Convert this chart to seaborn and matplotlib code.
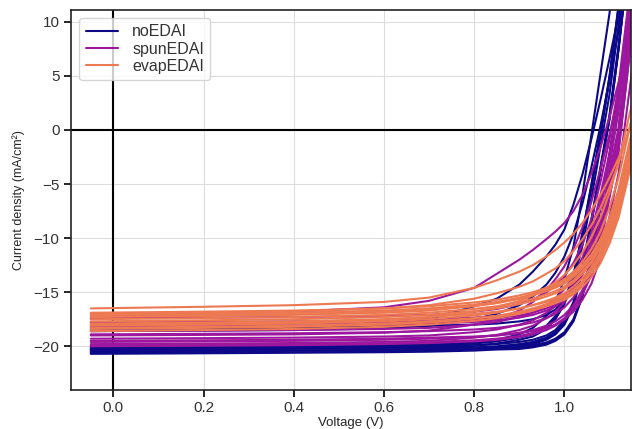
import pandas as pd
import matplotlib
matplotlib.use("Agg")
import matplotlib.pyplot as plt
import seaborn as sns

# Voltage sweep (V) shared by all devices
voltage = [-0.05, 0.2, 0.4, 0.6, 0.7, 0.8, 0.85, 0.9, 0.93, 0.96,
           0.98, 1.0, 1.02, 1.04, 1.06, 1.08, 1.1, 1.12, 1.15]

# Current density (mA/cm2), one list per device
noEDAI = [
    [-20.6, -20.55, -20.5, -20.45, -20.4, -20.3, -20.2, -20.15, -20.0, -19.75, -19.4, -18.8, -17.6, -15.3, -11.6, -7.0, -2.3, 2.9, 12.4],
    [-20.5, -20.45, -20.4, -20.35, -20.3, -20.2, -20.1, -19.9, -19.7, -19.3, -18.8, -17.9, -16.2, -12.9, -8.5, -3.7, 1.1, 7.5, 18.5],
    [-20.3, -20.25, -20.2, -20.15, -20.1, -19.95, -19.75, -19.4, -19.1, -18.4, -17.5, -16.1, -13.7, -9.8, -5.3, -0.5, 4.7, 11.2, 22.7],
    [-20.7, -20.65, -20.6, -20.55, -20.5, -20.4, -20.3, -20.25, -20.1, -19.85, -19.5, -18.9, -17.7, -15.4, -11.7, -7.1, -2.4, 2.8, 12.3],
    [-20.2, -20.15, -20.1, -20.05, -20.0, -19.9, -19.8, -19.6, -19.4, -19.0, -18.5, -17.6, -15.9, -12.6, -8.2, -3.4, 1.4, 7.8, 18.8],
    [-20.4, -20.35, -20.3, -20.25, -20.2, -20.1, -20.0, -19.8, -19.6, -19.2, -18.7, -17.8, -16.1, -12.8, -8.4, -3.6, 1.2, 7.6, 18.6],
    [-20.0, -19.95, -19.9, -19.85, -19.8, -19.65, -19.45, -19.1, -18.8, -18.1, -17.2, -15.8, -13.4, -9.5, -5.0, -0.2, 5.0, 11.5, 23.0],
    [-20.3, -20.25, -20.2, -20.1, -20.0, -19.7, -19.4, -18.9, -18.3, -17.2, -15.9, -13.8, -10.8, -6.0, -0.4, 5.2, 10.8, 16.5, 25.0],
    [-18.4, -18.35, -18.3, -18.0, -17.5, -16.3, -15.6, -14.3, -13.1, -11.7, -10.6, -9.2, -6.9, -4.1, -0.8, 2.8, 6.6, 10.6, 17.0],
    [-18.3, -18.25, -18.2, -18.15, -18.1, -18.0, -17.9, -17.7, -17.5, -17.1, -16.6, -15.7, -14.0, -10.7, -6.3, -1.5, 3.3, 9.7, 20.7],
    [-20.6, -20.55, -20.5, -20.45, -20.4, -20.3, -20.2, -20.0, -19.8, -19.4, -18.9, -18.0, -16.3, -13.0, -8.6, -3.8, 1.0, 7.4, 18.4],
    [-20.1, -20.05, -20.0, -19.95, -19.9, -19.75, -19.55, -19.2, -18.9, -18.2, -17.3, -15.9, -13.5, -9.6, -5.1, -0.3, 4.9, 11.4, 22.9],
    [-18.6, -18.55, -18.5, -18.35, -18.1, -17.5, -17.0, -16.2, -15.4, -14.3, -13.2, -11.7, -9.6, -6.8, -3.4, 0.4, 4.6, 9.2, 17.0],
    [-20.5, -20.45, -20.4, -20.35, -20.3, -20.2, -20.1, -20.05, -19.9, -19.65, -19.3, -18.7, -17.5, -15.2, -11.5, -6.9, -2.2, 3.0, 12.5],
]

spunEDAI = [
    [-20.0, -19.95, -19.9, -19.8, -19.7, -19.55, -19.4, -19.15, -18.9, -18.5, -18.1, -17.5, -16.6, -15.2, -13.4, -10.6, -6.2, -2.0, 9.0],
    [-19.6, -19.55, -19.5, -19.4, -19.3, -19.15, -19.0, -18.75, -18.5, -18.1, -17.7, -17.1, -16.2, -14.8, -13.0, -10.2, -5.8, -1.6, 9.4],
    [-19.3, -19.25, -19.2, -19.1, -19.0, -18.7, -18.45, -18.0, -17.6, -16.9, -16.3, -15.4, -14.2, -12.5, -10.1, -6.7, -2.8, 2.2, 12.7],
    [-18.9, -18.85, -18.8, -18.7, -18.6, -18.45, -18.3, -18.05, -17.8, -17.4, -17.0, -16.4, -15.5, -14.1, -12.3, -9.5, -5.1, -0.9, 10.1],
    [-18.6, -18.55, -18.5, -18.4, -18.3, -18.0, -17.75, -17.3, -16.9, -16.2, -15.6, -14.7, -13.5, -11.8, -9.4, -6.0, -2.1, 2.9, 13.4],
    [-18.2, -18.15, -18.1, -18.0, -17.9, -17.75, -17.6, -17.35, -17.1, -16.7, -16.3, -15.7, -14.8, -13.4, -11.6, -8.8, -4.4, -0.2, 10.8],
    [-17.8, -17.75, -17.7, -17.6, -17.5, -17.35, -17.2, -16.95, -16.7, -16.3, -15.9, -15.3, -14.4, -13.0, -11.2, -8.4, -4.0, 0.2, 11.2],
    [-17.4, -17.35, -17.3, -17.2, -17.1, -16.8, -16.55, -16.1, -15.7, -15.0, -14.4, -13.5, -12.3, -10.6, -8.2, -4.8, -0.9, 4.1, 14.6],
    [-17.0, -16.95, -16.8, -16.4, -15.8, -14.6, -13.3, -12.0, -11.1, -10.1, -9.4, -8.6, -7.5, -6.0, -4.0, -1.6, 1.2, 4.4, 10.0],
    [-19.8, -19.75, -19.7, -19.6, -19.5, -19.2, -18.95, -18.5, -18.1, -17.4, -16.8, -15.9, -14.7, -13.0, -10.6, -7.2, -3.3, 1.7, 12.2],
    [-19.0, -18.95, -18.9, -18.75, -18.55, -18.0, -17.5, -16.7, -15.9, -14.8, -13.8, -12.6, -11.0, -9.0, -6.6, -3.6, -0.4, 3.4, 10.5],
    [-18.0, -17.95, -17.9, -17.8, -17.7, -17.55, -17.4, -17.15, -16.9, -16.5, -16.1, -15.5, -14.6, -13.2, -11.4, -8.6, -4.2, 0.0, 11.0],
    [-19.9, -19.85, -19.8, -19.7, -19.6, -19.45, -19.3, -19.05, -18.8, -18.4, -18.0, -17.4, -16.5, -15.1, -13.3, -10.5, -6.1, -1.9, 9.1],
    [-19.5, -19.45, -19.4, -19.3, -19.2, -19.1, -19.0, -18.8, -18.6, -18.3, -18.0, -17.5, -16.8, -15.7, -14.2, -11.8, -8.0, -4.0, 5.5],
]

evapEDAI = [
    [-16.5, -16.35, -16.2, -15.9, -15.5, -14.6, -13.9, -13.1, -12.5, -11.7, -11.1, -10.4, -9.6, -8.6, -7.4, -6.0, -4.4, -2.6, 0.6],
    [-17.0, -16.9, -16.75, -16.5, -16.2, -15.6, -15.1, -14.5, -14.0, -13.3, -12.8, -12.1, -11.2, -10.1, -8.8, -7.2, -5.3, -3.1, 1.0],
    [-16.9, -16.8, -16.7, -16.5, -16.3, -15.95, -15.7, -15.3, -15.0, -14.6, -14.3, -13.9, -13.3, -12.5, -11.5, -10.1, -8.1, -5.5, -0.1],
    [-17.1, -17.0, -16.9, -16.7, -16.5, -16.15, -15.9, -15.5, -15.2, -14.8, -14.5, -14.1, -13.5, -12.7, -11.7, -10.3, -8.3, -5.7, -0.3],
    [-17.3, -17.2, -17.1, -16.9, -16.7, -16.3, -16.0, -15.6, -15.2, -14.7, -14.3, -13.8, -13.1, -12.2, -11.0, -9.4, -7.2, -4.4, 1.2],
    [-17.5, -17.4, -17.3, -17.1, -16.9, -16.55, -16.3, -15.9, -15.6, -15.2, -14.9, -14.5, -13.9, -13.1, -12.1, -10.7, -8.7, -6.1, -0.7],
    [-17.7, -17.6, -17.5, -17.3, -17.1, -16.75, -16.5, -16.1, -15.8, -15.4, -15.1, -14.7, -14.1, -13.3, -12.3, -10.9, -8.9, -6.3, -0.9],
    [-17.9, -17.8, -17.7, -17.5, -17.3, -17.0, -16.8, -16.5, -16.2, -15.9, -15.6, -15.3, -14.8, -14.1, -13.2, -11.9, -10.1, -7.7, -2.5],
    [-18.1, -18.0, -17.9, -17.7, -17.5, -17.15, -16.9, -16.5, -16.2, -15.8, -15.5, -15.1, -14.5, -13.7, -12.7, -11.3, -9.3, -6.7, -1.3],
    [-18.3, -18.2, -18.1, -17.9, -17.7, -17.4, -17.2, -16.9, -16.6, -16.3, -16.0, -15.7, -15.2, -14.5, -13.6, -12.3, -10.5, -8.1, -2.9],
    [-18.6, -18.5, -18.4, -18.2, -18.0, -17.65, -17.4, -17.0, -16.7, -16.3, -16.0, -15.6, -15.0, -14.2, -13.2, -11.8, -9.8, -7.2, -1.8],
    [-18.0, -17.9, -17.8, -17.55, -17.3, -16.8, -16.4, -15.8, -15.3, -14.6, -14.1, -13.4, -12.5, -11.3, -9.9, -8.1, -5.8, -3.0, 2.5],
    [-17.2, -17.1, -17.0, -16.8, -16.6, -16.25, -16.0, -15.6, -15.3, -14.9, -14.6, -14.2, -13.6, -12.8, -11.8, -10.4, -8.4, -5.8, -0.4],
    [-18.4, -18.3, -18.2, -18.0, -17.8, -17.45, -17.2, -16.8, -16.5, -16.1, -15.8, -15.4, -14.8, -14.0, -13.0, -11.6, -9.6, -7.0, -1.6],
]

groups = {"noEDAI": noEDAI, "spunEDAI": spunEDAI, "evapEDAI": evapEDAI}

# Long table: one row per point
rows = []
for name, curves in groups.items():
    for i, curve in enumerate(curves):
        for v, j in zip(voltage, curve):
            rows.append({"V": v, "J": j, "group": name, "device": f"{name}_{i}"})
df = pd.DataFrame(rows)

sns.set_style("ticks", {"axes.grid": True, "grid.color": "#dcdcdc"})
plt.rcParams["font.family"] = ["Liberation Sans", "DejaVu Sans"]

colors = ["#0d0887", "#9c179e", "#ed7953"]

fig, ax = plt.subplots(figsize=(6.32, 4.29), dpi=100)
fig.subplots_adjust(left=0.113, right=0.998, top=0.977, bottom=0.092)

ax.axhline(0, color="black", lw=1.5, zorder=1.5)
ax.axvline(0, color="black", lw=1.5, zorder=1.5)

sns.lineplot(data=df, x="V", y="J", hue="group", units="device", estimator=None,
             palette=colors, lw=1.5, sort=False, ax=ax)

ax.set_xlim(-0.093, 1.147)
ax.set_ylim(-24, 11.1)
ax.set_xticks([0.0, 0.2, 0.4, 0.6, 0.8, 1.0])
ax.set_yticks([-20, -15, -10, -5, 0, 5, 10])
ax.tick_params(axis="both", labelsize=11, labelcolor="#333333", length=5, width=1.2, color="black")
ax.set_xlabel("Voltage (V)", fontsize=9.5, labelpad=1)
ax.set_ylabel("Current density (mA/cm²)", fontsize=9, labelpad=6)
for s in ax.spines.values():
    s.set_color("#222222")
    s.set_linewidth(1.2)

leg = ax.legend(loc="upper left", fontsize=11.5, frameon=True, handlelength=2.0,
                handletextpad=0.9, labelspacing=0.15, borderaxespad=0.5)
leg.get_frame().set_alpha(0.8)
for t in leg.get_texts():
    t.set_color("#333333")

plt.savefig("out.png", dpi=100)
